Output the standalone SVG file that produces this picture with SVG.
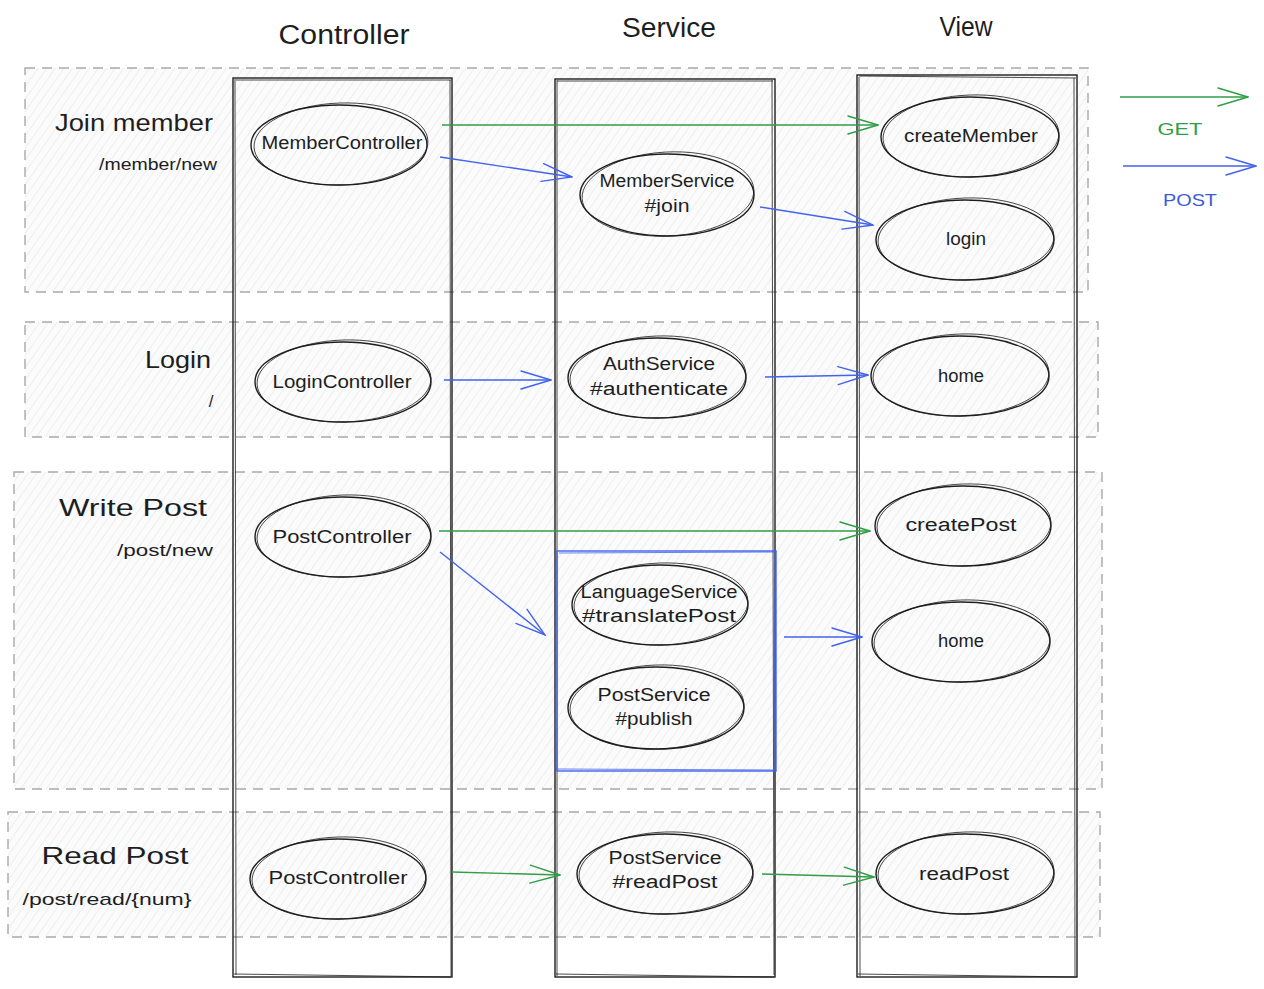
<svg xmlns="http://www.w3.org/2000/svg" width="1264" height="989" viewBox="0 0 1264 989">
  <defs>
    <pattern id="hachure" patternUnits="userSpaceOnUse" width="7" height="7" patternTransform="rotate(35)">
      <rect width="7" height="7" fill="#fbfbfc"/>
      <line x1="0" y1="0" x2="0" y2="7" stroke="#e3e6e9" stroke-width="1.2"/>
    </pattern>
    <marker id="head-get" markerUnits="userSpaceOnUse" viewBox="0 0 32 22" markerWidth="32" markerHeight="22" refX="31" refY="11" orient="auto">
      <path d="M1,2 L31,11 L1,20" fill="none" stroke="#2f9e44" stroke-width="1.4" stroke-linecap="round"/>
    </marker>
    <marker id="head-post" markerUnits="userSpaceOnUse" viewBox="0 0 32 22" markerWidth="32" markerHeight="22" refX="31" refY="11" orient="auto">
      <path d="M1,2 L31,11 L1,20" fill="none" stroke="#4263eb" stroke-width="1.4" stroke-linecap="round"/>
    </marker>
  </defs>
  <style>
    .band { fill: url(#hachure); stroke: #a9a9a9; stroke-width: 1.4; stroke-dasharray: 10 7; }
    .col { fill: none; stroke: #1e1e1e; stroke-width: 1.4; }
    .col2 { fill: none; stroke: #1e1e1e; stroke-width: 0.8; }
    .node { fill: none; stroke: #1e1e1e; stroke-width: 1.4; }
    .node2 { fill: none; stroke: #1e1e1e; stroke-width: 0.8; }
    .group { fill: none; stroke: #4263eb; stroke-width: 1.4; }
    .t { font-family: "Liberation Sans", "DejaVu Sans", sans-serif; fill: #1e1e1e; text-anchor: middle; }
    .head { font-size: 27px; }
    .title { font-size: 24px; }
    .path { font-size: 17px; }
    .lbl { font-size: 18px; }
    .get { stroke: #2f9e44; stroke-width: 1.4; fill: none; marker-end: url(#head-get); }
    .post { stroke: #4263eb; stroke-width: 1.4; fill: none; marker-end: url(#head-post); }
  </style>

  <!-- feature bands -->
  <g id="bands">
    <rect id="band-join" class="band" x="25" y="68" width="1063" height="224"/>
    <rect id="band-login" class="band" x="25" y="322" width="1073" height="115"/>
    <rect id="band-write" class="band" x="14" y="472" width="1088" height="317"/>
    <rect id="band-read" class="band" x="8" y="812" width="1092" height="125"/>
  </g>

  <!-- layer columns -->
  <g id="col-controller">
    <rect class="col" x="233" y="78" width="219" height="899"/>
    <path class="col2" d="M236,80 L451,80 M235,79 L236,975 M450,80 L451,976 M234,974 L451,977"/>
    <text class="t head" x="344" y="44" textLength="131" lengthAdjust="spacingAndGlyphs">Controller</text>
  </g>
  <g id="col-service">
    <rect class="col" x="555" y="79" width="220" height="898"/>
    <path class="col2" d="M557,81 L773,81 M557,80 L557,976 M772,80 L774,975 M556,974 L774,977"/>
    <text class="t head" x="669" y="37" textLength="94" lengthAdjust="spacingAndGlyphs">Service</text>
  </g>
  <g id="col-view">
    <rect class="col" x="857" y="75" width="220" height="902"/>
    <path class="col2" d="M859,76 L1076,78 M859,77 L860,976 M1074,78 L1075,976 M858,974 L1076,977"/>
    <text class="t head" x="966" y="36" textLength="53" lengthAdjust="spacingAndGlyphs">View</text>
  </g>

  <!-- band titles -->
  <g id="title-join">
    <text class="t title" x="134" y="131" textLength="158" lengthAdjust="spacingAndGlyphs">Join member</text>
    <text class="t path" x="158" y="170" textLength="118" lengthAdjust="spacingAndGlyphs">/member/new</text>
  </g>
  <g id="title-login">
    <text class="t title" x="178" y="368" textLength="66" lengthAdjust="spacingAndGlyphs">Login</text>
    <text class="t path" x="211" y="407">/</text>
  </g>
  <g id="title-write">
    <text class="t title" x="133" y="516" textLength="148" lengthAdjust="spacingAndGlyphs">Write Post</text>
    <text class="t path" x="165" y="556" textLength="96" lengthAdjust="spacingAndGlyphs">/post/new</text>
  </g>
  <g id="title-read">
    <text class="t title" x="115" y="864" textLength="147" lengthAdjust="spacingAndGlyphs">Read Post</text>
    <text class="t path" x="107" y="905" textLength="169" lengthAdjust="spacingAndGlyphs">/post/read/{num}</text>
  </g>

  <!-- service group for write post -->
  <g id="group-write-services">
    <rect class="group" x="557" y="551" width="219" height="220"/>
    <path d="M559,553 L775,552 M775,552 L774,770 M558,769 L776,770" fill="none" stroke="#4263eb" stroke-width="0.8"/>
  </g>

  <!-- nodes -->
  <g id="n-member-controller">
    <ellipse class="node" cx="339" cy="145" rx="88" ry="40"/>
    <ellipse class="node2" cx="341" cy="144" rx="87" ry="41" transform="rotate(-2 341 144)"/>
    <text class="t lbl" x="342" y="149" textLength="161" lengthAdjust="spacingAndGlyphs">MemberController</text>
  </g>
  <g id="n-member-service">
    <ellipse class="node" cx="667" cy="195" rx="87" ry="41"/>
    <ellipse class="node2" cx="668" cy="194" rx="86" ry="42" transform="rotate(-3 668 194)"/>
    <text class="t lbl" x="667" y="187" textLength="135" lengthAdjust="spacingAndGlyphs">MemberService</text>
    <text class="t lbl" x="667" y="212" textLength="45" lengthAdjust="spacingAndGlyphs">#join</text>
  </g>
  <g id="n-create-member">
    <ellipse class="node" cx="970" cy="137" rx="89" ry="40"/>
    <ellipse class="node2" cx="971" cy="136" rx="88" ry="41" transform="rotate(-2 971 136)"/>
    <text class="t lbl" x="971" y="142" textLength="134" lengthAdjust="spacingAndGlyphs">createMember</text>
  </g>
  <g id="n-login">
    <ellipse class="node" cx="965" cy="240" rx="89" ry="40"/>
    <ellipse class="node2" cx="966" cy="239" rx="88" ry="41" transform="rotate(-2 966 239)"/>
    <text class="t lbl" x="966" y="245" textLength="40" lengthAdjust="spacingAndGlyphs">login</text>
  </g>
  <g id="n-login-controller">
    <ellipse class="node" cx="343" cy="382" rx="88" ry="40"/>
    <ellipse class="node2" cx="344" cy="381" rx="87" ry="41" transform="rotate(-2 344 381)"/>
    <text class="t lbl" x="342" y="388" textLength="139" lengthAdjust="spacingAndGlyphs">LoginController</text>
  </g>
  <g id="n-auth-service">
    <ellipse class="node" cx="657" cy="378" rx="89" ry="40"/>
    <ellipse class="node2" cx="658" cy="377" rx="88" ry="41" transform="rotate(-2 658 377)"/>
    <text class="t lbl" x="659" y="370" textLength="112" lengthAdjust="spacingAndGlyphs">AuthService</text>
    <text class="t lbl" x="659" y="395" textLength="138" lengthAdjust="spacingAndGlyphs">#authenticate</text>
  </g>
  <g id="n-home-login">
    <ellipse class="node" cx="960" cy="376" rx="89" ry="40"/>
    <ellipse class="node2" cx="961" cy="375" rx="88" ry="41" transform="rotate(-2 961 375)"/>
    <text class="t lbl" x="961" y="382" textLength="46" lengthAdjust="spacingAndGlyphs">home</text>
  </g>
  <g id="n-post-controller-write">
    <ellipse class="node" cx="343" cy="537" rx="88" ry="40"/>
    <ellipse class="node2" cx="344" cy="536" rx="87" ry="41" transform="rotate(-2 344 536)"/>
    <text class="t lbl" x="342" y="543" textLength="139" lengthAdjust="spacingAndGlyphs">PostController</text>
  </g>
  <g id="n-create-post">
    <ellipse class="node" cx="963" cy="526" rx="88" ry="40"/>
    <ellipse class="node2" cx="964" cy="525" rx="87" ry="41" transform="rotate(-2 964 525)"/>
    <text class="t lbl" x="961" y="531" textLength="111" lengthAdjust="spacingAndGlyphs">createPost</text>
  </g>
  <g id="n-language-service">
    <ellipse class="node" cx="660" cy="605" rx="88" ry="40"/>
    <ellipse class="node2" cx="661" cy="604" rx="87" ry="41" transform="rotate(-2 661 604)"/>
    <text class="t lbl" x="659" y="598" textLength="157" lengthAdjust="spacingAndGlyphs">LanguageService</text>
    <text class="t lbl" x="659" y="622" textLength="154" lengthAdjust="spacingAndGlyphs">#translatePost</text>
  </g>
  <g id="n-post-service-publish">
    <ellipse class="node" cx="656" cy="708" rx="88" ry="41"/>
    <ellipse class="node2" cx="657" cy="707" rx="87" ry="42" transform="rotate(-2 657 707)"/>
    <text class="t lbl" x="654" y="701" textLength="113" lengthAdjust="spacingAndGlyphs">PostService</text>
    <text class="t lbl" x="654" y="725" textLength="77" lengthAdjust="spacingAndGlyphs">#publish</text>
  </g>
  <g id="n-home-write">
    <ellipse class="node" cx="961" cy="642" rx="89" ry="40"/>
    <ellipse class="node2" cx="962" cy="641" rx="88" ry="41" transform="rotate(-2 962 641)"/>
    <text class="t lbl" x="961" y="647" textLength="46" lengthAdjust="spacingAndGlyphs">home</text>
  </g>
  <g id="n-post-controller-read">
    <ellipse class="node" cx="338" cy="879" rx="88" ry="40"/>
    <ellipse class="node2" cx="339" cy="878" rx="87" ry="41" transform="rotate(-2 339 878)"/>
    <text class="t lbl" x="338" y="884" textLength="139" lengthAdjust="spacingAndGlyphs">PostController</text>
  </g>
  <g id="n-post-service-read">
    <ellipse class="node" cx="665" cy="874" rx="88" ry="40"/>
    <ellipse class="node2" cx="666" cy="873" rx="87" ry="41" transform="rotate(-2 666 873)"/>
    <text class="t lbl" x="665" y="864" textLength="113" lengthAdjust="spacingAndGlyphs">PostService</text>
    <text class="t lbl" x="665" y="888" textLength="105" lengthAdjust="spacingAndGlyphs">#readPost</text>
  </g>
  <g id="n-read-post">
    <ellipse class="node" cx="965" cy="874" rx="89" ry="40"/>
    <ellipse class="node2" cx="966" cy="873" rx="88" ry="41" transform="rotate(-2 966 873)"/>
    <text class="t lbl" x="964" y="880" textLength="90" lengthAdjust="spacingAndGlyphs">readPost</text>
  </g>

  <!-- connectors -->
  <g id="connectors">
    <path class="get" d="M442,125 L878,125"/>
    <path class="post" d="M440,157 L572,177"/>
    <path class="post" d="M760,207 L873,225"/>
    <path class="post" d="M444,380 L551,380"/>
    <path class="post" d="M765,377 L868,375"/>
    <path class="get" d="M439,531 L870,531"/>
    <path class="post" d="M440,552 L545,635"/>
    <path class="post" d="M784,637 L862,637"/>
    <path class="get" d="M452,872 L560,875"/>
    <path class="get" d="M762,874 L874,877"/>
  </g>

  <!-- legend -->
  <g id="legend">
    <path class="get" d="M1120,97 L1248,97"/>
    <text class="t path" x="1180" y="135" style="fill:#2f9e44" textLength="45" lengthAdjust="spacingAndGlyphs">GET</text>
    <path class="post" d="M1123,166 L1256,166"/>
    <text class="t path" x="1190" y="206" style="fill:#3b5bdb" textLength="54" lengthAdjust="spacingAndGlyphs">POST</text>
  </g>
</svg>
